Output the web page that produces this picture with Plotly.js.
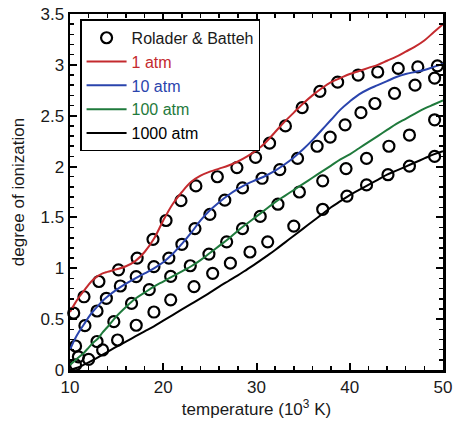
<!DOCTYPE html>
<html><head><meta charset="utf-8">
<script src="https://cdn.plot.ly/plotly-3.0.1.min.js"></script>
<style>html,body{margin:0;padding:0;background:#fff}#chart{width:453px;height:423px}</style>
</head><body><div id="chart"></div>
<script>
// Model curves (temperature in 10^3 K)
const tLine = [10,10.5,11,11.5,12,12.5,13,13.5,14,15,16,17,18,19,20,21,22,23,24,25,26,27,28,29,30,31,32,33,34,35,36,37,38,39,40,41,42,43,44,45,46,47,48,49,50];
const atm1 = [0.57,0.65,0.72,0.78,0.84,0.89,0.925,0.95,0.965,0.99,1.02,1.07,1.16,1.29,1.47,1.63,1.75,1.85,1.91,1.95,1.98,2.01,2.05,2.10,2.16,2.24,2.34,2.44,2.53,2.62,2.70,2.77,2.83,2.87,2.91,2.94,2.97,3.00,3.04,3.08,3.13,3.18,3.24,3.32,3.40];
const atm10 = [0.2,0.3,0.38,0.45,0.52,0.58,0.63,0.68,0.72,0.79,0.85,0.90,0.95,1.0,1.06,1.14,1.24,1.35,1.47,1.57,1.65,1.72,1.78,1.83,1.87,1.91,1.96,2.02,2.09,2.17,2.26,2.36,2.46,2.56,2.64,2.71,2.76,2.80,2.84,2.88,2.91,2.93,2.95,2.98,3.01];
const atm100 = [0.05,0.09,0.13,0.17,0.22,0.27,0.31,0.37,0.42,0.53,0.62,0.70,0.76,0.82,0.87,0.92,0.97,1.02,1.08,1.15,1.22,1.29,1.37,1.44,1.51,1.58,1.65,1.71,1.77,1.83,1.89,1.95,2.01,2.07,2.12,2.18,2.24,2.30,2.36,2.42,2.47,2.52,2.57,2.61,2.65];
const atm1000 = [0.0,0.015,0.03,0.052,0.075,0.1,0.125,0.151,0.177,0.23,0.28,0.33,0.38,0.43,0.485,0.54,0.595,0.65,0.705,0.76,0.82,0.875,0.93,0.99,1.05,1.115,1.18,1.25,1.32,1.39,1.46,1.53,1.60,1.66,1.72,1.77,1.82,1.87,1.92,1.96,2.00,2.04,2.08,2.12,2.15];

// Rolader & Batteh data points
const rb1T = [10.4,11.5,13.1,15.2,17.2,18.9,20.3,21.9,23.5,25.8,27.9,29.9,31.4,33.1,34.9,36.8,38.7,40.9,43.0,45.2,47.3,49.4];
const rb1V = [0.56,0.72,0.87,0.985,1.10,1.285,1.47,1.665,1.81,1.90,1.99,2.09,2.23,2.40,2.58,2.74,2.83,2.90,2.93,2.965,2.98,2.99];
const rb10T = [10.6,11.6,12.9,13.9,15.4,17.1,19.0,20.6,22.0,23.4,25.0,26.6,28.5,30.6,32.5,34.4,36.5,37.9,39.5,41.2,42.7,44.8,47.0,49.1];
const rb10V = [0.236,0.436,0.58,0.705,0.826,0.918,1.016,1.10,1.236,1.39,1.53,1.67,1.79,1.885,1.97,2.08,2.20,2.29,2.41,2.53,2.62,2.72,2.80,2.87];
const rb100T = [10.9,12.9,14.7,16.6,18.5,20.8,22.9,24.9,26.8,28.5,30.4,32.3,34.6,37.1,39.6,41.8,44.2,46.4,49.1];
const rb100V = [0.13,0.28,0.475,0.655,0.79,0.92,1.025,1.14,1.26,1.39,1.51,1.63,1.75,1.86,1.98,2.08,2.20,2.31,2.46];
const rb1000T = [10.6,12.0,13.5,15.1,17.1,19.0,20.8,23.3,25.3,27.2,29.3,31.2,34.0,37.1,39.7,41.8,44.1,46.4,49.1];
const rb1000V = [0.05,0.105,0.197,0.295,0.44,0.57,0.69,0.82,0.95,1.05,1.16,1.26,1.415,1.58,1.71,1.82,1.92,2.005,2.10];

const xTicks = [10,20,30,40,50];
const yTicks = [0,0.5,1,1.5,2,2.5,3,3.5];

const RED = '#c42a2e', BLUE = '#2a44ad', GREEN = '#1f7a3c', BLACK = '#000000';
const FONT = 'Liberation Sans, Arial, sans-serif';
const TXT = '#1a1a1a';

const mk = {symbol:'circle-open', size:11, color:'#000', line:{width:2.2, color:'#000'}};
function pts(x, y, show){
  return {x:x, y:y, type:'scatter', mode:'markers', marker:mk, cliponaxis:false,
          name:'Rolader & Batteh', showlegend:show, legendgroup:'rb'};
}
function ln(y, color, label){
  return {x:tLine, y:y, type:'scatter', mode:'lines', line:{color:color, width:2, shape:'spline', smoothing:1},
          name:'<span style="color:'+color+'">'+label+'</span>'};
}
const data = [
  pts(rb1T, rb1V, true), pts(rb10T, rb10V, false), pts(rb100T, rb100V, false), pts(rb1000T, rb1000V, false),
  ln(atm1, RED, '1 atm'), ln(atm10, BLUE, '10 atm'), ln(atm100, GREEN, '100 atm'), ln(atm1000, BLACK, '1000 atm')
];
const axisCommon = {
  showline:true, linecolor:'#000', linewidth:2.5, mirror:'allticks',
  ticks:'inside', ticklen:7, tickwidth:2, tickcolor:'#000',
  showgrid:false, zeroline:false, tickfont:{family:FONT, size:17, color:TXT}
};
const layout = {
  width:453, height:423,
  margin:{l:70, r:10, t:14, b:53},
  paper_bgcolor:'#fff', plot_bgcolor:'#fff',
  font:{family:FONT, size:17, color:TXT},
  xaxis: Object.assign({}, axisCommon, {
    range:[10,50], tickmode:'array', tickvals:xTicks, ticktext:xTicks.map(String),
    minor:{dtick:2, tick0:10, ticks:'inside', ticklen:4, tickwidth:1.5, tickcolor:'#000'},
    title:{text:'temperature (10<sup>3</sup> K)', font:{family:FONT, size:17, color:TXT}, standoff:6}
  }),
  yaxis: Object.assign({}, axisCommon, {
    range:[0,3.5], tickmode:'array', tickvals:yTicks, ticktext:yTicks.map(String),
    minor:{dtick:0.1, tick0:0, ticks:'inside', ticklen:4, tickwidth:1.5, tickcolor:'#000'},
    title:{text:'degree of ionization', font:{family:FONT, size:17, color:TXT}, standoff:12}
  }),
  legend:{x:0.027, y:0.985, xanchor:'left', yanchor:'top', bgcolor:'#fff', bordercolor:'#000', borderwidth:1.5,
          font:{family:FONT, size:16, color:TXT}, tracegroupgap:0, itemwidth:40},
  showlegend:true
};
Plotly.newPlot('chart', data, layout, {staticPlot:true, displayModeBar:false});
</script></body></html>
